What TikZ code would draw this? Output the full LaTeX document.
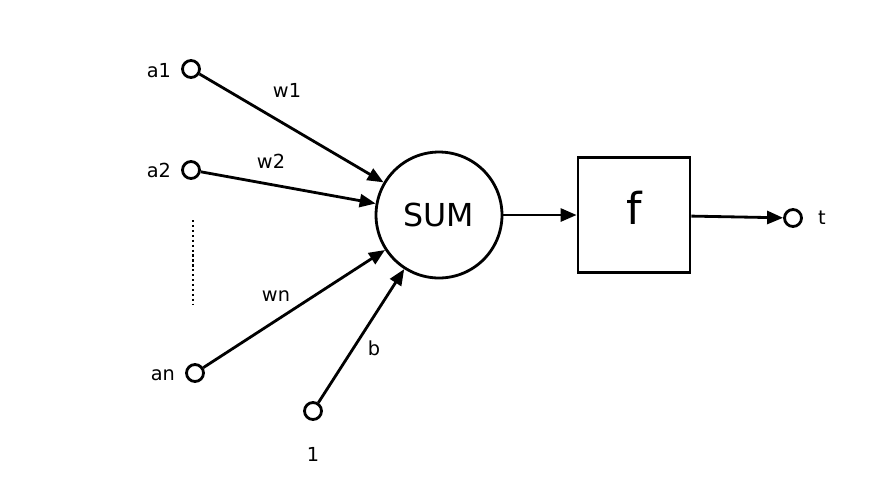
\documentclass[tikz,border=0pt]{standalone}
\usepackage{fontspec}
\setmainfont{DejaVu Sans}
\usetikzlibrary{arrows.meta}

\begin{document}
\begin{tikzpicture}[x=0.02cm,y=-0.02cm,
    port/.style={circle,draw,line width=1.6pt,inner sep=0pt,minimum size=0.34cm},
    small/.style={font=\fontsize{11}{13}\selectfont},
    link/.style={-{Triangle[length=0.32cm,width=0.26cm]},line width=1.6pt}]
    \useasboundingbox (0,0) rectangle (884,488);
    \node[port,label={[small,label distance=0.08cm,yshift=-0.04cm]left:a1}] (a1) at (191,69) {};
    \node[port,label={[small,label distance=0.08cm]left:a2}] (a2) at (191,170) {};
    \node[port,label={[small,label distance=0.08cm,yshift=-0.04cm]left:an}] (an) at (195,373) {};
    \node[port,label={[small,label distance=0.4cm]below:1}] (one) at (313,411) {};
    \node[circle,draw,line width=1.6pt,minimum size=2.52cm,font=\fontsize{18}{21}\selectfont] (sum) at (439,215) {SUM};
    \node[draw,line width=1.6pt,minimum width=2.24cm,minimum height=2.3cm,
        label={[font=\fontsize{25}{29}\selectfont,yshift=0.14cm]center:f}] (f) at (634,215) {};
    \node[port,label={[small,label distance=0.18cm]right:t}] (t) at (793,218) {};
    \node[small] (w1) at (287,90) {w1};
    \node[small] (w2) at (271,161) {w2};
    \node[small] (wn) at (276,296) {wn};
    \node[small] (b) at (374,348) {b};
    \draw[line width=1.7pt,dash pattern=on 1.3pt off 1.5pt] (193,220) -- (193,305);
    \draw[link] (a1) -- (sum);
    \draw[link] (a2) -- (sum);
    \draw[link] (an) -- (sum);
    \draw[link] (one) -- (sum);
    \draw[link] (sum) -- (f);
    \draw[link] (f) -- (t);
\end{tikzpicture}
\end{document}
